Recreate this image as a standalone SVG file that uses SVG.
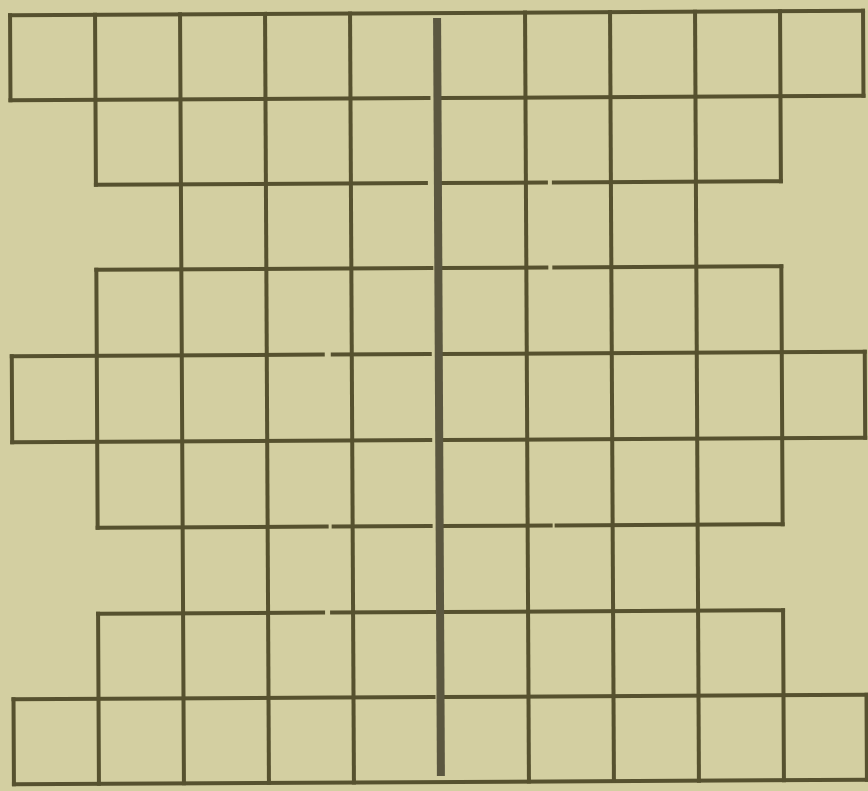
<svg xmlns="http://www.w3.org/2000/svg" width="868" height="791" viewBox="0 0 868 791">
<style>
.g{stroke:#56512f;stroke-width:4;stroke-linecap:square;fill:none}
.axis{stroke:#5b5740;stroke-width:8;stroke-linecap:butt;fill:none}
</style>
<rect width="868" height="791" fill="#d3cfa1"/>
<g transform="rotate(-0.29 437 400)">
<g id="horizontal" class="g">
<path d="M12 13H865"/>
<path d="M12 98H430M441 98H865"/>
<path d="M97 183H427M441 183H547M555 183H782"/>
<path d="M97 268H432M441 268H547M555 268H782"/>
<path d="M12 354H323M333 354H430M441 354H865"/>
<path d="M12 440H430M441 440H865"/>
<path d="M97 526H326M333 526H430M441 526H550M556 526H782"/>
<path d="M97 612H322M331 612H433M441 612H782"/>
<path d="M12 697H332M336 697H432M441 697H865"/>
<path d="M12 782H865"/>
</g>
<g id="vertical" class="g">
<path d="M12 13V98M12 354V440M12 697V782"/>
<path d="M97 13V183M97 268V526M97 612V782"/>
<path d="M182 13V782"/>
<path d="M267 13V782"/>
<path d="M352 13V782"/>
<path d="M527 13V782"/>
<path d="M612 13V782"/>
<path d="M697 13V782"/>
<path d="M782 13V183M782 268V526M782 612V782"/>
<path d="M865 13V98M865 354V440M865 697V782"/>
</g>
<path id="axis" class="axis" d="M439 18V776"/>
</g>
</svg>
